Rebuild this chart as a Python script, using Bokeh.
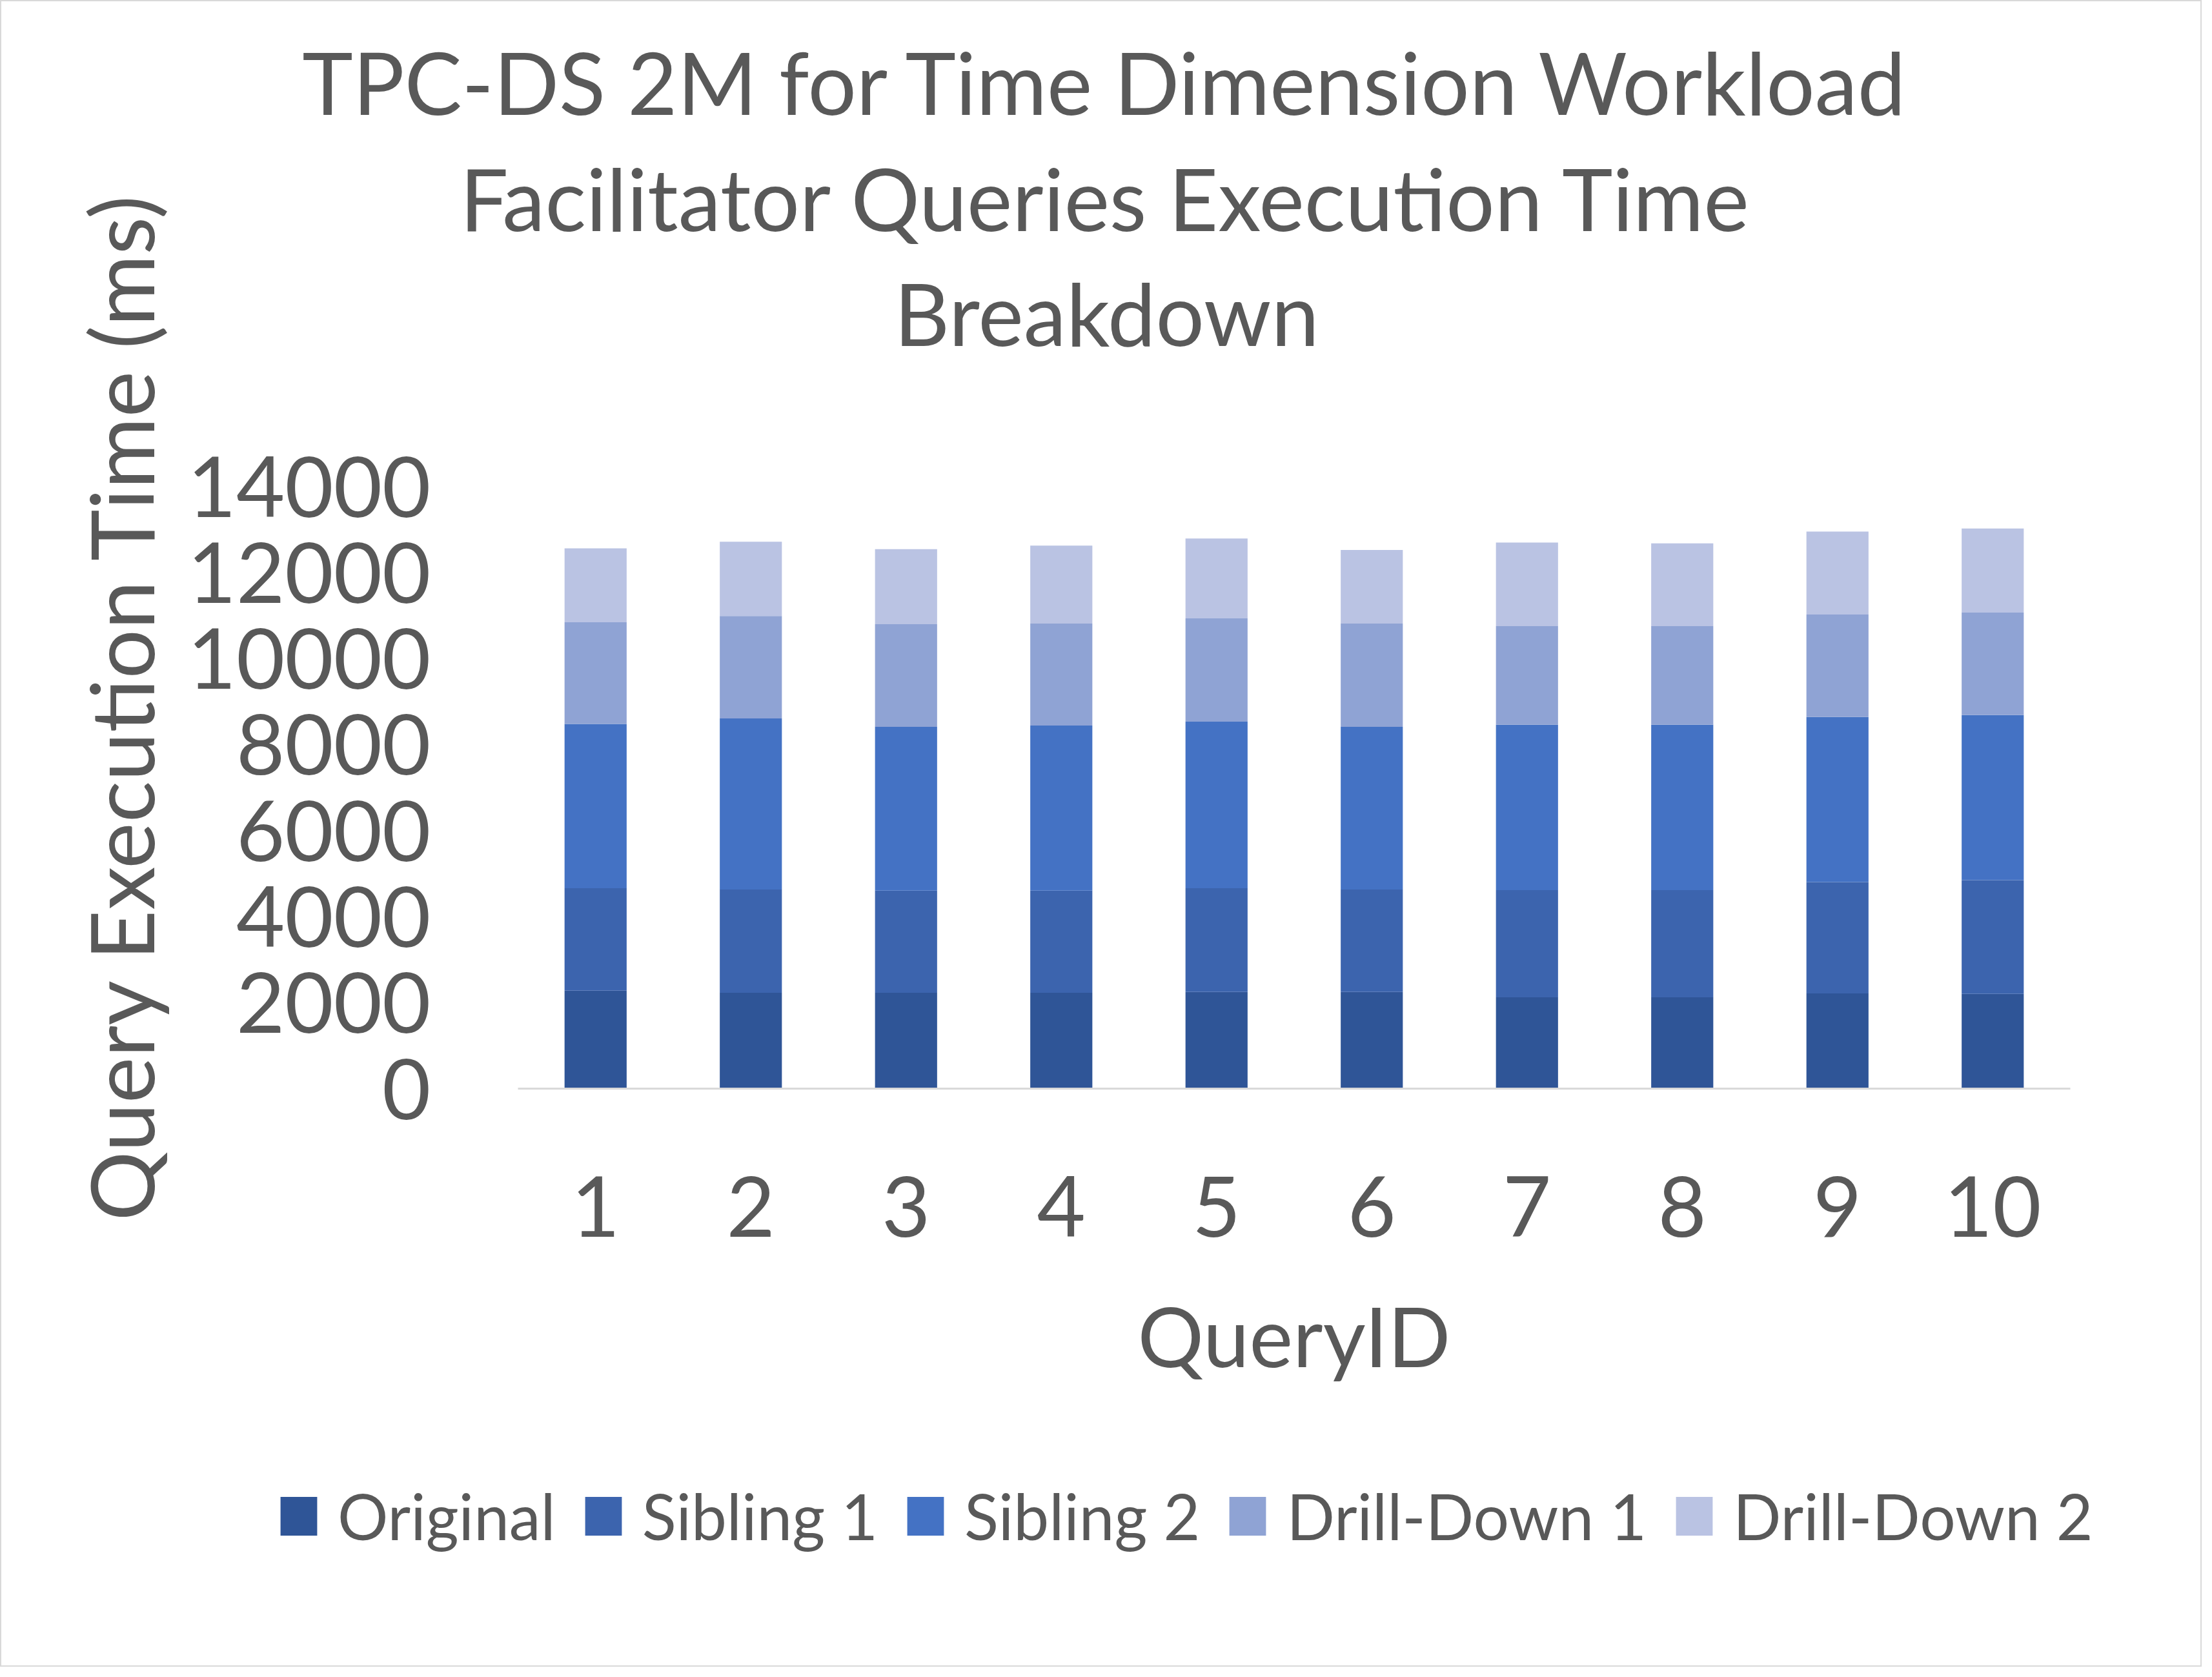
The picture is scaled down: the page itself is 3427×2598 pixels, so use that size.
import math
from bokeh.plotting import figure
from bokeh.models import (ColumnDataSource, Label, Legend, LegendItem, FixedTicker,
                          NumeralTickFormatter, Range1d)
from bokeh.embed import file_html
from bokeh.resources import INLINE

# ---------------- data ----------------
query_ids = ["1", "2", "3", "4", "5", "6", "7", "8", "9", "10"]
original = [2276, 2230, 2230, 2230, 2248, 2248, 2122, 2122, 2212, 2203]
sibling_1 = [2382, 2401, 2374, 2374, 2410, 2383, 2491, 2491, 2591, 2645]
sibling_2 = [3819, 3973, 3808, 3837, 3873, 3781, 3846, 3846, 3837, 3838]
drill_down_1 = [2363, 2382, 2383, 2372, 2401, 2401, 2291, 2291, 2382, 2382]
drill_down_2 = [1719, 1727, 1746, 1810, 1855, 1710, 1945, 1927, 1928, 1954]

series = ["Original", "Sibling 1", "Sibling 2", "Drill-Down 1", "Drill-Down 2"]
colors = ["#2F5597", "#3C64AE", "#4472C4", "#8FA3D4", "#BAC3E3"]
y_ticks = [0, 2000, 4000, 6000, 8000, 10000, 12000, 14000]
y_max = 14000

title_lines = ["TPC-DS 2M for Time Dimension Workload",
               "Facilitator Queries Execution Time",
               "Breakdown"]
x_title = "QueryID"
y_title = "Query Execution Time (ms)"

# ---------------- layout (pixels) ----------------
W, H = 3411, 2582
FL, FR, FB = 802, 3207, 1686        # plot area left / right / baseline
Y_TOP_PX = 753                       # pixel row of y_max
SHIFT_EM = 0.37                      # text baseline correction (in em)
FONT = "Lato"
TXT = "#595959"

qid = [int(q) for q in query_ids]
source = ColumnDataSource(data={
    "qid": qid,
    series[0]: original,
    series[1]: sibling_1,
    series[2]: sibling_2,
    series[3]: drill_down_1,
    series[4]: drill_down_2,
})

cat_w = (FR - FL) / len(qid)
x0 = qid[0] - 0.5
px_per_unit = (FB - Y_TOP_PX) / y_max
p = figure(x_range=Range1d(x0 - FL / cat_w, x0 + (W - FL) / cat_w),
           y_range=Range1d(-(H - FB) / px_per_unit, FB / px_per_unit),
           width=W, height=H, output_backend="svg", toolbar_location=None,
           title_location=None, min_border=0,
           min_border_left=0, min_border_right=0, min_border_top=0, min_border_bottom=0)

renderers = p.vbar_stack(series, x="qid", width=0.4, color=colors,
                         line_width=0, source=source)

# x axis drawn at y = 0
p.xaxis.fixed_location = 0
p.xaxis.bounds = (x0, qid[-1] + 0.5)
p.xaxis.ticker = FixedTicker(ticks=qid)
p.xaxis.axis_line_color = "#D9D9D9"
p.xaxis.axis_line_width = 3
p.xaxis.major_tick_line_color = None
p.xaxis.minor_tick_line_color = None
p.xaxis.major_tick_out = 0
p.xaxis.major_label_standoff = 135
p.xaxis.major_label_text_font = FONT
p.xaxis.major_label_text_font_size = "130px"
p.xaxis.major_label_text_color = TXT

# y axis drawn at the left edge of the plot area
p.yaxis.fixed_location = x0
p.yaxis.ticker = FixedTicker(ticks=y_ticks)
p.yaxis.formatter = NumeralTickFormatter(format="0")
p.yaxis.axis_line_color = None
p.yaxis.major_tick_line_color = None
p.yaxis.minor_tick_line_color = None
p.yaxis.major_tick_out = 0
p.yaxis.major_label_standoff = 135
p.yaxis.major_label_text_font = FONT
p.yaxis.major_label_text_font_size = "130px"
p.yaxis.major_label_text_color = TXT

p.xgrid.grid_line_color = None
p.ygrid.grid_line_color = None
p.outline_line_color = "#D9D9D9"
p.outline_line_width = 3

# chart title
TS = 133
for text, base in zip(title_lines, [175, 355, 533.5]):
    p.add_layout(Label(x=1714, y=H - base + SHIFT_EM * TS, x_units="screen", y_units="screen",
                       text=text, text_align="center", text_baseline="alphabetic",
                       text_font=FONT, text_font_size=f"{TS}px", text_color=TXT))

# axis titles
XS, YS = 128, 135
p.add_layout(Label(x=(FL + FR) / 2, y=H - 2115.6 + SHIFT_EM * XS, x_units="screen", y_units="screen",
                   text=x_title, text_align="center", text_baseline="alphabetic",
                   text_font=FONT, text_font_size=f"{XS}px", text_color=TXT))
p.add_layout(Label(x=236 - SHIFT_EM * YS, y=H - 1093, x_units="screen", y_units="screen",
                   text=y_title, angle=math.pi / 2, text_align="center",
                   text_baseline="alphabetic",
                   text_font=FONT, text_font_size=f"{YS}px", text_color=TXT))

# legend
legend = Legend(items=[LegendItem(label=s, renderers=[r]) for s, r in zip(series, renderers)],
                location=(427, 175), orientation="horizontal",
                glyph_width=71, glyph_height=75, label_standoff=25, spacing=38,
                padding=0, margin=0, border_line_alpha=0, background_fill_alpha=0,
                label_text_font=FONT, label_text_font_size="98px", label_text_color=TXT)
p.add_layout(legend, "center")

open("out.html", "w").write(file_html(p, INLINE))
